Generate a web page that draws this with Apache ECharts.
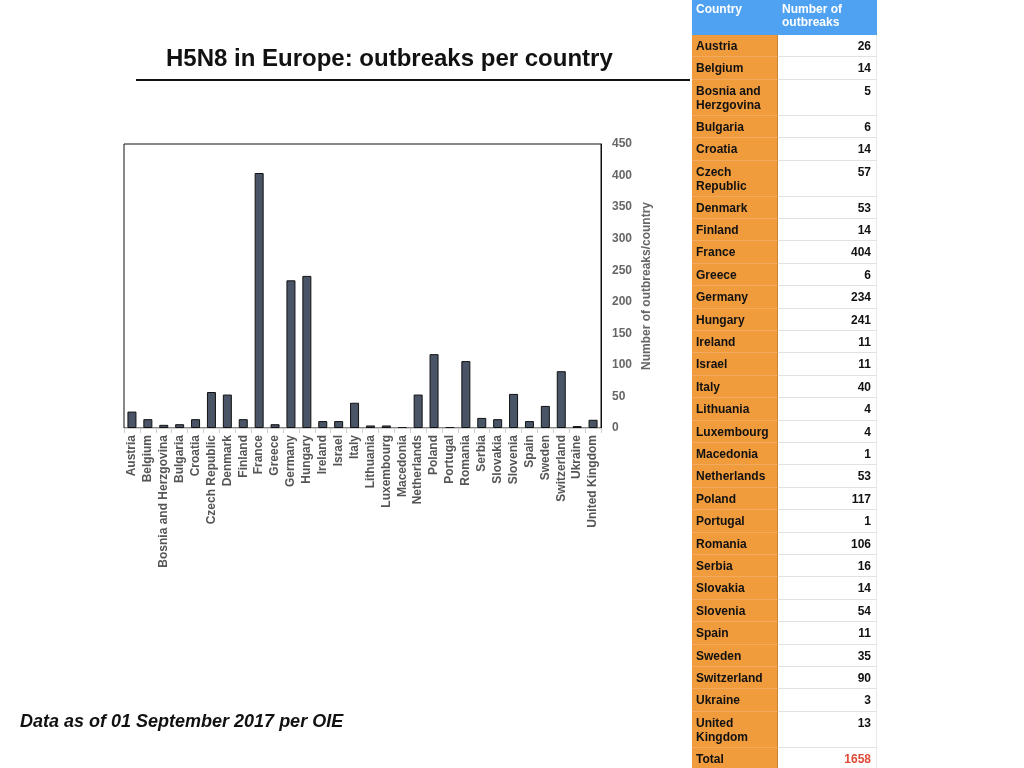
<!DOCTYPE html>
<html>
<head>
<meta charset="utf-8">
<script src="https://cdn.jsdelivr.net/npm/echarts@6/dist/echarts.min.js"></script>
<style>
  html, body { margin: 0; padding: 0; background: #fff; overflow: hidden; }
  #chart { position: absolute; left: 0; top: 0; width: 1024px; height: 768px; }
  #tbl { position: absolute; left: 692px; top: 0; width: 185px;
         font-family: "Liberation Sans", Arial, Helvetica, sans-serif; font-size: 12px; font-weight: bold; }
  .row { display: flex; box-sizing: border-box; }
  .row > div { box-sizing: border-box; line-height: 14px; padding: 4px 5px 0 4px; }
  .hdr > div { background: #4fa2f2; color: #fff; padding-top: 3px; line-height: 13px; }
  .c { width: 86px; background: #f09b3c; color: #111; border-right: 1px solid #c9822f; border-bottom: 1px solid #f2ab5e; }
  .v { width: 99px; background: #fff; color: #111; text-align: right; border-bottom: 1px solid #e2e2e2; border-right: 1px solid #e8e8e8; }
  .tot { color: #e04a36; }
</style>
</head>
<body>
<div id="chart"></div>
<div id="tbl"></div>
<script>
const countries = ["Austria","Belgium","Bosnia and Herzgovina","Bulgaria","Croatia","Czech Republic","Denmark","Finland","France","Greece","Germany","Hungary","Ireland","Israel","Italy","Lithuania","Luxembourg","Macedonia","Netherlands","Poland","Portugal","Romania","Serbia","Slovakia","Slovenia","Spain","Sweden","Switzerland","Ukraine","United Kingdom"];
const outbreaks = [26,14,5,6,14,57,53,14,404,6,234,241,11,11,40,4,4,1,53,117,1,106,16,14,54,11,35,90,3,13];
const totalLabel = "Total";
const totalValue = 1658;
const yTicks = { min: 0, max: 450, interval: 50 };
const titleText = "H5N8 in Europe: outbreaks per country";
const footText = "Data as of 01 September 2017 per OIE";
const yAxisName = "Number of outbreaks/country";
const tableHeaders = ["Country", "Number of outbreaks"];

// Build the table
const wrapped = ["Bosnia and Herzgovina","Czech Republic","United Kingdom"];
const tbl = document.getElementById('tbl');
let html = '<div class="row hdr" style="height:35px"><div class="c" style="background:#4fa2f2;border-right:1px solid #4fa2f2;border-bottom:none">' +
  tableHeaders[0] + '</div><div class="v" style="background:#4fa2f2;text-align:left;border-bottom:none;border-right:none">' + tableHeaders[1] + '</div></div>';
let y = 35;
function addRow(label, val, extra) {
  const h = wrapped.indexOf(label) >= 0 ? 36 : 22.4;
  const top = Math.round(y), bot = Math.round(y + h);
  html += '<div class="row" style="height:' + (bot - top) + 'px"><div class="c">' + label + '</div><div class="v' + (extra || '') + '">' + val + '</div></div>';
  y += h;
}
countries.forEach((c, i) => addRow(c, outbreaks[i]));
addRow(totalLabel, totalValue, ' tot');
tbl.innerHTML = html;

const chart = echarts.init(document.getElementById('chart'));
const font = '"Liberation Sans", Arial, Helvetica, sans-serif';
chart.setOption({
  animation: false,
  backgroundColor: '#fff',
  title: [
    { text: titleText, left: 161, top: 42,
      textStyle: { fontFamily: font, fontSize: 24, fontWeight: 'bold', color: '#111' } },
    { text: footText, left: 15, top: 708,
      textStyle: { fontFamily: font, fontSize: 18, fontWeight: 'bold', fontStyle: 'italic', color: '#111' } }
  ],
  graphic: [
    { type: 'line', shape: { x1: 136, y1: 80, x2: 690, y2: 80 }, style: { stroke: '#111', lineWidth: 2 } }
  ],
  grid: { left: 124, top: 144, right: 423, bottom: 340, show: true, borderColor: '#111', borderWidth: 1, containLabel: false },
  xAxis: {
    type: 'category', data: countries,
    axisLine: { show: true, lineStyle: { color: '#d0d0d0' } },
    axisTick: { show: true, alignWithLabel: false, length: 5, lineStyle: { color: '#d0d0d0' } },
    axisLabel: { rotate: 90, interval: 0, margin: 7, fontFamily: font, fontSize: 12, fontWeight: 'bold', color: '#555' },
    z: 5
  },
  yAxis: {
    type: 'value', position: 'right', min: yTicks.min, max: yTicks.max, interval: yTicks.interval,
    splitLine: { show: false },
    axisLine: { show: true, lineStyle: { color: '#111' } },
    axisTick: { show: false },
    axisLabel: { margin: 11, fontFamily: font, fontSize: 12, fontWeight: 'bold', color: '#666', align: 'left' },
    name: yAxisName, nameLocation: 'middle', nameGap: 40, nameRotate: 90,
    nameTextStyle: { fontFamily: font, fontSize: 12, fontWeight: 'bold', color: '#666' }
  },
  series: [{
    type: 'bar', data: outbreaks, barWidth: 9,
    itemStyle: { color: '#4a5467', borderColor: '#111', borderWidth: 1 }
  }]
});
</script>
</body>
</html>
